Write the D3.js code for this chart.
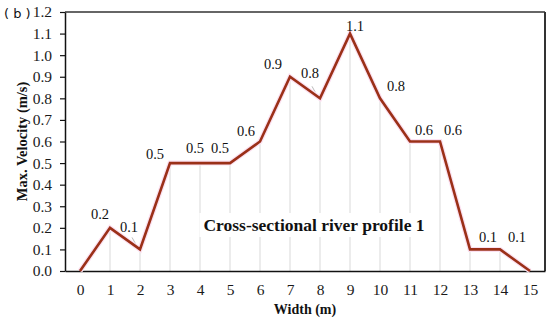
<!DOCTYPE html>
<html>
<head>
<meta charset="utf-8">
<script src="https://cdn.jsdelivr.net/npm/d3@7"></script>
<style>
    body { margin: 0; background: #fff; }
    svg { display: block; }
</style>
</head>
<body>
<div id="chart"></div>
<script>
// Values
var widths = [0, 1, 2, 3, 4, 5, 6, 7, 8, 9, 10, 11, 12, 13, 14, 15];
var velocities = [0, 0.2, 0.1, 0.5, 0.5, 0.5, 0.6, 0.9, 0.8, 1.1, 0.8, 0.6, 0.6, 0.1, 0.1, 0];
var yTicks = [0, 0.1, 0.2, 0.3, 0.4, 0.5, 0.6, 0.7, 0.8, 0.9, 1.0, 1.1, 1.2];

// label nudges (px) so labels sit like in the original, first and last points have no label
var labelNudge = {
    1: [-10, -14], 2: [-11, -22], 3: [-15, -9], 4: [-5, -15], 5: [-10, -15],
    6: [-14, -11], 7: [-17, -13], 8: [-10, -25], 9: [5, -8], 10: [16, -12],
    11: [14, -12], 12: [13, -12], 13: [18, -12], 14: [17, -12]
};

const SERIF = "'Liberation Serif', 'Times New Roman', serif";
const W = 550, H = 322;
const margin = {top: 12, right: 5, bottom: 51, left: 65};
const width = W - margin.left - margin.right;
const height = H - margin.top - margin.bottom;

var svg = d3.select("#chart").append("svg")
    .attr("width", W)
    .attr("height", H);

var g = svg.append("g")
    .attr("transform", "translate(" + margin.left + "," + margin.top + ")");

var xScale = d3.scaleLinear()
    .domain([-0.5, 15.5])
    .range([0, width]);

var yScale = d3.scaleLinear()
    .domain([0, 1.2])
    .range([height, 0]);

var data = widths.map((w, i) => ({w: w, v: velocities[i]}));

// drop lines from each point down to the axis
g.selectAll(".dropLine")
    .data(data)
    .enter().append("line")
    .attr("class", "dropLine")
    .attr("x1", d => xScale(d.w))
    .attr("x2", d => xScale(d.w))
    .attr("y1", d => yScale(d.v))
    .attr("y2", height)
    .attr("stroke", "#e0e0e0")
    .attr("stroke-width", 1.2);

// title in the plot, white box hides the drop lines behind it
var title = g.append("text")
    .attr("x", 314 - margin.left)
    .attr("y", 231 - margin.top)
    .attr("text-anchor", "middle")
    .attr("font-family", SERIF)
    .attr("font-weight", "bold")
    .attr("font-size", 17.5)
    .attr("fill", "#111")
    .text("Cross-sectional river profile 1");
var bb = title.node().getBBox();
g.insert("rect", "text")
    .attr("x", bb.x - 4)
    .attr("y", bb.y - 2)
    .attr("width", bb.width + 8)
    .attr("height", bb.height + 4)
    .attr("fill", "#fff");

// frame: top and right
g.append("line")
    .attr("x1", 0).attr("x2", width)
    .attr("y1", 0).attr("y2", 0)
    .attr("stroke", "#666").attr("stroke-width", 2);
g.append("line")
    .attr("x1", width).attr("x2", width)
    .attr("y1", 0).attr("y2", height)
    .attr("stroke", "#333").attr("stroke-width", 2);

// axes
var xAxis = g.append("g")
    .attr("transform", "translate(0," + height + ")")
    .call(d3.axisBottom(xScale).tickValues(widths).tickFormat(d3.format("d")).tickSize(0).tickPadding(13));
xAxis.select(".domain").attr("stroke", "#111").attr("stroke-width", 1.5);

var yAxis = g.append("g")
    .call(d3.axisLeft(yScale).tickValues(yTicks).tickFormat(d3.format(".1f")).tickSize(5).tickSizeOuter(0).tickPadding(8));
yAxis.select(".domain").attr("stroke", "#111").attr("stroke-width", 1.5);
yAxis.selectAll(".tick line").attr("stroke", "#111").attr("stroke-width", 1.2);

[xAxis, yAxis].forEach(ax => ax.selectAll(".tick text")
    .attr("font-family", SERIF)
    .attr("font-size", 15.5)
    .attr("fill", "#1a1a1a"));

// leader lines for the two labels pushed further up
[2, 8].forEach(i => {
    g.append("line")
        .attr("x1", xScale(widths[i]) - 3)
        .attr("y1", yScale(velocities[i]) - 3)
        .attr("x2", xScale(widths[i]) - 8)
        .attr("y2", yScale(velocities[i]) - 12)
        .attr("stroke", "#bbb")
        .attr("stroke-width", 1);
});

// the profile line
var line = d3.line()
    .x(d => xScale(d.w))
    .y(d => yScale(d.v));

g.append("path")
    .datum(data)
    .attr("fill", "none")
    .attr("stroke", "#fbe1f1")
    .attr("stroke-width", 5)
    .attr("stroke-linejoin", "miter")
    .attr("d", line);

g.append("path")
    .datum(data)
    .attr("fill", "none")
    .attr("stroke", "#9b3018")
    .attr("stroke-width", 2.6)
    .attr("stroke-linejoin", "miter")
    .attr("d", line);

// value labels
g.selectAll(".valueLabel")
    .data(data.filter((d, i) => labelNudge[i]))
    .enter().append("text")
    .attr("class", "valueLabel")
    .attr("x", d => xScale(d.w) + labelNudge[d.w][0])
    .attr("y", d => yScale(d.v) + labelNudge[d.w][1])
    .attr("dy", "0.35em")
    .attr("text-anchor", "middle")
    .attr("font-family", SERIF)
    .attr("font-size", 14.5)
    .attr("fill", "#111")
    .text(d => d3.format(".1f")(d.v));

// axis titles
svg.append("text")
    .attr("x", margin.left + xScale(7.5))
    .attr("y", 314)
    .attr("text-anchor", "middle")
    .attr("font-family", SERIF)
    .attr("font-weight", "bold")
    .attr("font-size", 14)
    .attr("fill", "#111")
    .text("Width (m)");

svg.append("text")
    .attr("transform", "translate(26.5," + (margin.top + height / 2) + ") rotate(-90)")
    .attr("text-anchor", "middle")
    .attr("font-family", SERIF)
    .attr("font-weight", "bold")
    .attr("font-size", 14.5)
    .attr("fill", "#111")
    .text("Max. Velocity (m/s)");

// panel tag
svg.append("text")
    .attr("x", 4)
    .attr("y", 18)
    .attr("font-family", "'DejaVu Sans', sans-serif")
    .attr("font-size", 13)
    .attr("fill", "#111")
    .text("( b )");
</script>
</body>
</html>
